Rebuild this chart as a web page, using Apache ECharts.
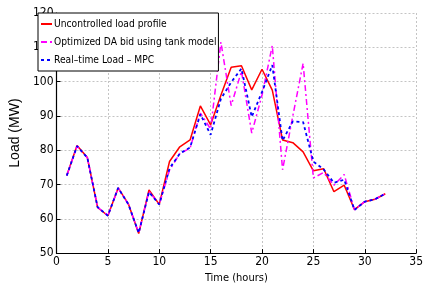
<!DOCTYPE html>
<html>
<head>
<meta charset="utf-8">
<script src="https://cdn.jsdelivr.net/npm/echarts@6/dist/echarts.min.js"></script>
<style>
  html, body { margin: 0; padding: 0; background: #fff; }
  #myChart { width: 426px; height: 289px; }
</style>
</head>
<body>
<div id="myChart"></div>
<script>
// hours 1..32
var hours = [1, 2, 3, 4, 5, 6, 7, 8, 9, 10, 11, 12, 13, 14, 15, 16,
             17, 18, 19, 20, 21, 22, 23, 24, 25, 26, 27, 28, 29, 30, 31, 32];

var uncontrolled = [72.6, 81.4, 77.9, 63.3, 60.9, 69.0, 64.3, 55.7, 68.4, 64.2, 76.7, 81.0, 83.0, 92.9, 87.4, 96.0,
                    104.2, 104.6, 97.6, 103.6, 97.5, 83.0, 82.2, 79.5, 74.0, 74.6, 67.9, 69.8, 62.7, 65.0, 65.7, 67.3];

var daBid = [72.6, 81.2, 77.8, 63.4, 60.9, 69.0, 64.2, 55.9, 68.0, 64.2, 74.2, 79.0, 80.6, 90.8, 86.2, 111.5,
             93.0, 103.0, 85.0, 96.0, 110.5, 74.3, 90.0, 105.3, 71.9, 73.5, 69.8, 72.9, 62.6, 65.0, 65.7, 67.3];

var realTime = [72.6, 81.2, 77.8, 63.4, 60.9, 69.0, 64.2, 55.9, 67.8, 64.2, 74.7, 79.0, 80.8, 90.5, 84.5, 95.0,
                99.8, 103.8, 89.7, 97.0, 104.8, 82.8, 88.4, 88.2, 76.7, 74.4, 70.5, 71.4, 62.6, 65.0, 65.7, 67.3];

var seriesNames = ["Uncontrolled load profile", "Optimized DA bid using tank model", "Real\u2013time Load \u2013 MPC"];

function pairs(vals) {
  return hours.map(function (h, i) { return [h, vals[i]]; });
}

document.addEventListener("DOMContentLoaded", function () {
  var myChart = echarts.init(document.getElementById("myChart"));

  var axisFont = "'Liberation Sans Narrow', 'DejaVu Sans Condensed', 'Liberation Sans', sans-serif";

  var option = {
    animation: false,
    backgroundColor: "#fff",
    grid: { left: 38, right: 8, top: 13, bottom: 31 },
    legend: {
      orient: "vertical",
      left: 38,
      top: 13,
      padding: [6, 2, 6, 2],
      itemWidth: 11,
      itemHeight: 12,
      itemGap: 8,
      backgroundColor: "#fff",
      borderColor: "#000",
      borderWidth: 1,
      borderRadius: 0,
      itemStyle: { opacity: 0 },
      textStyle: { fontFamily: axisFont, fontSize: 10.2, color: "#000", padding: [0, 0, 0, -3] },
      data: seriesNames,
    },
    xAxis: {
      type: "value",
      min: 0,
      max: 35,
      interval: 5,
      name: "Time (hours)",
      nameLocation: "middle",
      nameGap: 18,
      nameTextStyle: { fontFamily: axisFont, fontSize: 11, color: "#000" },
      axisLine: { lineStyle: { color: "#000", width: 1.2 } },
      axisTick: { inside: true, length: 4, lineStyle: { color: "#000" } },
      axisLabel: { fontFamily: axisFont, fontSize: 12, color: "#000", margin: 3 },
      splitLine: { show: true, lineStyle: { color: "#c4c4c4", type: [2, 2] } },
    },
    yAxis: {
      type: "value",
      min: 50,
      max: 120,
      interval: 10,
      name: "Load (MW)",
      nameLocation: "middle",
      nameRotate: 90,
      nameGap: 23,
      nameTextStyle: { fontFamily: "Liberation Sans", fontSize: 14, color: "#000" },
      axisLine: { show: true, lineStyle: { color: "#000", width: 1.2 } },
      axisTick: { show: true, inside: true, length: 4, lineStyle: { color: "#000" } },
      axisLabel: { fontFamily: axisFont, fontSize: 12, color: "#000", margin: 3 },
      splitLine: { show: true, lineStyle: { color: "#c4c4c4", type: [2, 2] } },
    },
    series: [
      {
        name: seriesNames[0],
        type: "line",
        symbol: "none",
        data: pairs(uncontrolled),
        lineStyle: { color: "#ff0000", width: 1.5 },
        itemStyle: { color: "#ff0000" },
      },
      {
        name: seriesNames[1],
        type: "line",
        symbol: "none",
        data: pairs(daBid),
        lineStyle: { color: "#ff00ff", width: 1.5, type: [6, 3, 2, 3] },
        itemStyle: { color: "#ff00ff" },
      },
      {
        name: seriesNames[2],
        type: "line",
        symbol: "none",
        data: pairs(realTime),
        lineStyle: { color: "#0000ff", width: 1.8, type: [3, 3] },
        itemStyle: { color: "#0000ff" },
      },
    ],
  };

  myChart.setOption(option);
});
</script>
</body>
</html>
